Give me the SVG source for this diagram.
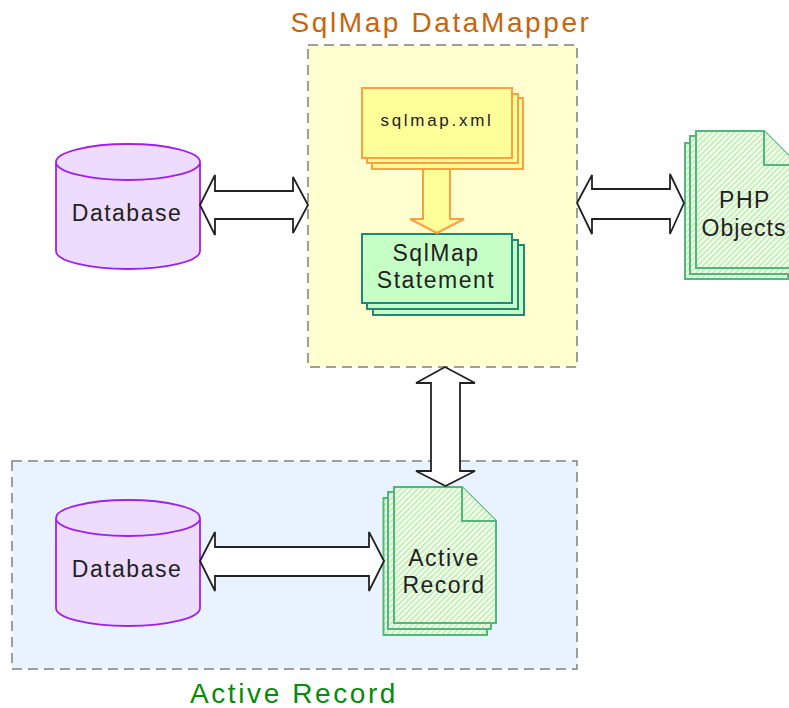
<svg xmlns="http://www.w3.org/2000/svg" width="789" height="708" viewBox="0 0 789 708">
<style>
text{font-family:"Liberation Sans",Arial,sans-serif;text-anchor:middle;fill:#222}
.lbl{font-size:23px;letter-spacing:1.5px}
.zone{stroke:#808080;stroke-width:1.5;stroke-dasharray:10 6}
.cyl{fill:#eedcff;stroke:#a020f0;stroke-width:1.8}
.doc{fill:url(#hatch);stroke:#4fb87a;stroke-width:2}
.yel{fill:#ffff99;stroke:#ffa040;stroke-width:2}
.grn{fill:#c6ffc6;stroke:#208878;stroke-width:2}
.dbl{fill:#fff;stroke:#222;stroke-width:1.8;stroke-linejoin:miter}
</style>
<defs>
<pattern id="hatch" width="4" height="4" patternUnits="userSpaceOnUse" patternTransform="rotate(-45)">
<rect width="4" height="4" fill="#fff"/>
<rect width="4" height="2.2" fill="#c4f2b4"/>
</pattern>
</defs>
<rect width="789" height="708" fill="#fff"/>
<g id="zone-sqlmap">
<rect class="zone" x="308" y="45" width="269" height="322" fill="#ffffd0"/>
<text x="441" y="32" style="font-size:28px;letter-spacing:2.6px;fill:#c8640a">SqlMap DataMapper</text>
</g>
<g id="zone-active">
<rect class="zone" x="12" y="461" width="565" height="208" fill="#e8f3ff"/>
<text x="294" y="703" style="font-size:28px;letter-spacing:2.6px;fill:#0a8a0a">Active Record</text>
</g>
<g id="db-top">
<path class="cyl" d="M56 162V251A72 18 0 0 0 200 251V162A72 18 0 0 0 56 162A72 18 0 0 0 200 162"/>
<text class="lbl" x="127" y="221">Database</text>
</g>
<g id="db-bottom">
<path class="cyl" d="M56 518V608A72 18 0 0 0 200 608V518A72 18 0 0 0 56 518A72 18 0 0 0 200 518"/>
<text class="lbl" x="127" y="577">Database</text>
</g>
<g id="sqlmap-xml">
<rect class="yel" x="372" y="98" width="151" height="71"/>
<rect class="yel" x="367" y="94" width="151" height="69"/>
<rect class="yel" x="362" y="88" width="150" height="70"/>
<text x="437" y="126" style="font-size:17px;letter-spacing:2.7px">sqlmap.xml</text>
</g>
<g id="sqlmap-statement">
<rect class="grn" x="373" y="245" width="151" height="70"/>
<rect class="grn" x="367" y="240" width="151" height="69"/>
<rect class="grn" x="362" y="234" width="150" height="69"/>
<text class="lbl" x="436" y="261">SqlMap</text>
<text class="lbl" x="436" y="288">Statement</text>
</g>
<g id="php-objects">
<path class="doc" d="M685 143H753L788 178V279H685Z"/>
<path class="doc" d="M690 136H758L793 171V274H690Z"/>
<path class="doc" d="M696 131H764L798 165V268H696Z"/>
<path class="doc" d="M764 131V165H798"/>
<text class="lbl" x="745" y="208">PHP</text>
<text x="744" y="236" style="font-size:23px;letter-spacing:1px">Objects</text>
</g>
<g id="active-record">
<path class="doc" d="M383.500 498H453L487 532V635H383.500Z"/>
<path class="doc" d="M388 492H458L491 526V629H388Z"/>
<path class="doc" d="M394 487H462L496 521V623H394Z"/>
<path class="doc" d="M462 487V521H496"/>
<text class="lbl" x="444" y="566">Active</text>
<text class="lbl" x="444" y="593">Record</text>
</g>
<g id="connectors">
<path d="M423 169H450V219H464L437 233L410 219H423Z" fill="#ffff99" stroke="#ffa040" stroke-width="2"/>
<path class="dbl" d="M200 205L215 175V191H293V177L308 205L293 233V219H215V235Z"/>
<path class="dbl" d="M577 203L592 175V189H670V174L684 203L670 234V219H592V234Z"/>
<path class="dbl" d="M445 367L475 383H460V471H475L445.500 486L416 471H431V383H416Z"/>
<path class="dbl" d="M200 561L215 532V547H369V532L384 561L369 591V576H215V591Z"/>
</g>
</svg>
